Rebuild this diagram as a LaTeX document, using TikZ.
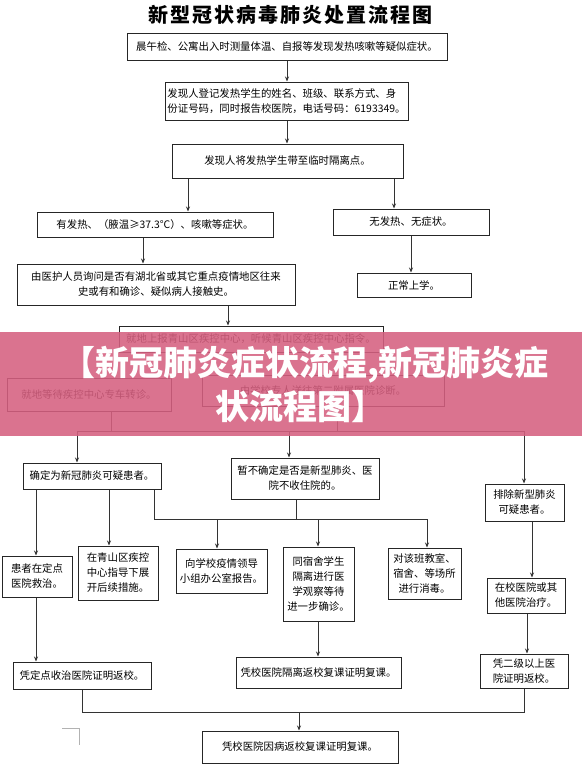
\documentclass[tikz,border=0pt]{standalone}
\usepackage{fontspec}
\setmainfont{Noto Sans CJK SC}
\usetikzlibrary{arrows.meta}
\definecolor{bannerpink}{RGB}{214,96,128}

\begin{document}
\begin{tikzpicture}[x=1pt,y=-1pt,
		box/.style={draw=black!85,line width=1pt,rectangle,inner sep=0pt,align=center,font=\fontsize{10.4}{15}\selectfont},
		arr/.style={draw=black!80,line width=1pt,-{Stealth[length=5pt,width=4pt]}},
		ln/.style={draw=black!80,line width=1pt},
		banner/.style={text=white,font=\fontsize{34}{38}\selectfont\bfseries}]
		\fill[white] (0,0) rectangle (582,769);
		\useasboundingbox (0,0) rectangle (582,769);
		\node[font=\fontsize{20}{24}\selectfont\bfseries\addfontfeature{LetterSpace=10}] (title) at (290,15) {新型冠状病毒肺炎处置流程图};
		\node[box,minimum width=320pt,minimum height=27pt] (chk) at (287,46.5) {晨午检、公寓出入时测量体温、自报等发现发热咳嗽等疑似症状。};
		\node[box,minimum width=243pt,minimum height=38pt,align=left] (reg) at (286.5,101) {发现人登记发热学生的姓名、班级、联系方式、身\\份证号码，同时报告校医院，电话号码：6193349。};
		\node[box,minimum width=231pt,minimum height=34pt] (iso) at (287.5,161) {发现人将发热学生带至临时隔离点。};
		\node[box,minimum width=236pt,minimum height=25pt] (fev) at (155,224.5) {有发热、（腋温≥37.3°C）、咳嗽等症状。};
		\node[box,minimum width=156pt,minimum height=26pt] (nof) at (411,222) {无发热、无症状。};
		\node[box,minimum width=278pt,minimum height=41pt] (ask) at (156,284.5) {由医护人员询问是否有湖北省或其它重点疫情地区往来\\史或有和确诊、疑似病人接触史。};
		\node[box,minimum width=114pt,minimum height=24pt] (sch) at (414,285) {正常上学。};
		\node[box,minimum width=264pt,minimum height=26pt] (rep) at (251,339) {就地上报青山区疾控中心，听候青山区疾控中心指令。};
		\node[box,minimum width=164pt,minimum height=33pt] (wait) at (89,394.5) {就地等待疾控中心专车转诊。};
		\node[box,minimum width=242pt,minimum height=31pt] (send) at (323,390.5) {由学校专人送往第二附属医院诊断。};
		\node[box,minimum width=138pt,minimum height=26pt] (susp) at (92,476) {确定为新冠肺炎可疑患者。};
		\node[box,minimum width=148pt,minimum height=41pt] (unc) at (305,478.5) {暂不确定是否是新型肺炎、医\\院不收住院的。};
		\node[box,minimum width=79pt,minimum height=37pt] (excl) at (524.5,502.5) {排除新型肺炎\\可疑患者。};
		\node[box,minimum width=70pt,minimum height=41pt] (trt) at (37,576.5) {患者在定点\\医院救治。};
		\node[box,minimum width=80pt,minimum height=54pt] (ctl) at (118,573) {在青山区疾控\\中心指导下展\\开后续措施。};
		\node[box,minimum width=91pt,minimum height=44pt] (ldr) at (221.5,571) {向学校疫情领导\\小组办公室报告。};
		\node[box,minimum width=71pt,minimum height=74pt] (obs) at (318.5,584) {同宿舍学生\\隔离进行医\\学观察等待\\进一步确诊。};
		\node[box,minimum width=73pt,minimum height=51pt] (dis) at (424.5,573.5) {对该班教室、\\宿舍、等场所\\进行消毒。};
		\node[box,minimum width=78pt,minimum height=35pt] (hos) at (526,595.5) {在校医院或其\\他医院治疗。};
		\node[box,minimum width=138pt,minimum height=27pt] (ret1) at (82,675.5) {凭定点收治医院证明返校。};
		\node[box,minimum width=165pt,minimum height=31pt] (ret2) at (318.5,672.5) {凭校医院隔离返校复课证明复课。};
		\node[box,minimum width=88pt,minimum height=34pt] (ret3) at (524,671) {凭二级以上医\\院证明返校。};
		\node[box,minimum width=196pt,minimum height=32pt] (fin) at (300,747) {凭校医院因病返校复课证明复课。};
		\coordinate (xa) at (188,0);
		\coordinate (xb) at (394,0);
		\coordinate (xc) at (143,0);
		\coordinate (xd) at (411,0);
		\coordinate (xe) at (228,0);
		\coordinate (xf) at (111,0);
		\coordinate (xg) at (337,0);
		\coordinate (xh) at (289,0);
		\coordinate (xi) at (296,0);
		\coordinate (xj) at (217,0);
		\coordinate (xk) at (318,0);
		\coordinate (xl) at (36,0);
		\coordinate (xm) at (109,0);
		\coordinate (xn) at (532,0);
		\coordinate (xo) at (527,0);
		\coordinate (xp) at (299,0);
		\coordinate (b1l) at (77,431);
		\coordinate (b1r) at (524,431);
		\coordinate (b2l) at (154,519);
		\coordinate (b2r) at (427,519);
		\coordinate (b3l) at (82,712);
		\coordinate (b3r) at (524,712);
		\draw[arr] (chk.south) -- (chk.south |- reg.north);
		\draw[arr] (reg.south -| chk.south) -- (chk.south |- iso.north);
		\draw[arr] (iso.south -| xa) -- (fev.north -| xa);
		\draw[arr] (iso.south -| xb) -- (nof.north -| xb);
		\draw[arr] (fev.south -| xc) -- (ask.north -| xc);
		\draw[arr] (nof.south -| xd) -- (sch.north -| xd);
		\draw[arr] (ask.south -| xe) -- (rep.north -| xe);
		\draw[ln] (wait.south -| xf) -- (xf |- b1l);
		\draw[ln] (send.south -| xg) -- (xg |- b1l);
		\draw[ln] (b1l) -- (b1r);
		\draw[arr] (b1l) -- (b1l |- susp.north);
		\draw[arr] (xh |- b1l) -- (xh |- unc.north);
		\draw[arr] (b1r) -- (b1r |- excl.north);
		\draw[arr] (susp.south -| xl) -- (trt.north -| xl);
		\draw[arr] (susp.south -| xm) -- (ctl.north -| xm);
		\draw[ln] (susp.south -| b2l) -- (b2l) -- (b2r);
		\draw[ln] (unc.south -| xi) -- (xi |- b2l);
		\draw[arr] (xj |- b2l) -- (ldr.north -| xj);
		\draw[arr] (xk |- b2l) -- (obs.north -| xk);
		\draw[arr] (b2r) -- (b2r |- dis.north);
		\draw[arr] (excl.south -| xn) -- (hos.north -| xn);
		\draw[arr] (hos.south -| xo) -- (ret3.north -| xo);
		\draw[arr] (obs.south -| xk) -- (ret2.north -| xk);
		\draw[arr] (trt.south -| xl) -- (ret1.north -| xl);
		\draw[ln] (ret1.south -| b3l) -- (b3l) -- (b3r) -- (b3r |- ret3.south);
		\draw[arr] (xp |- b3l) -- (xp |- fin.north);
		\draw[black!30,line width=1pt] (62,728) -- (79,728) -- (79,745);
		\fill[bannerpink,opacity=0.88] (0,332) rectangle (582,436);
		\node[banner] (bn1) at (305,365) {【新冠肺炎症状流程,新冠肺炎症};
		\node[banner] (bn2) at (300,407) {状流程图】};
	\end{tikzpicture}
\end{document}
